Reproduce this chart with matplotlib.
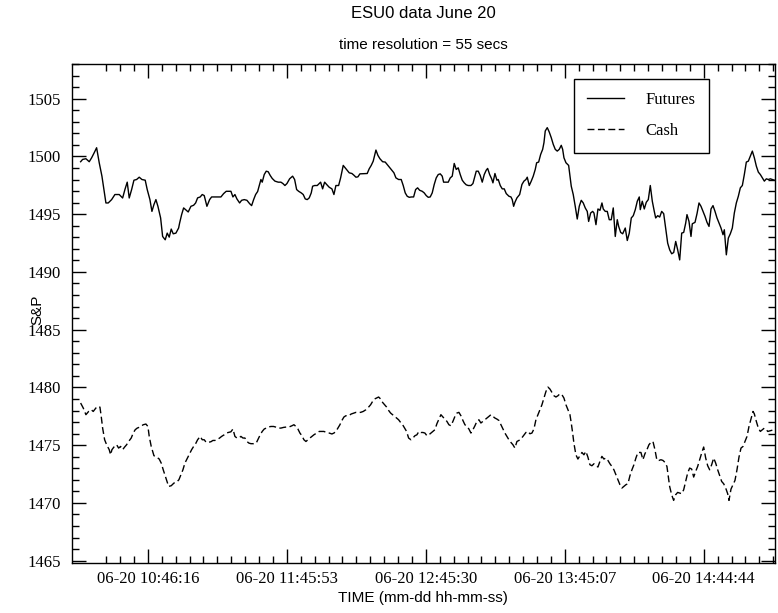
import matplotlib
matplotlib.use("Agg")
import matplotlib.pyplot as plt
import numpy as np
from matplotlib.ticker import FixedLocator, MultipleLocator

# minutes elapsed since the first sample (10:17:24) and the S&P level
FUT_T = [0.0, 0.86, 2.27, 3.69, 4.72, 5.83, 6.86, 7.98, 9.14, 10.0, 10.85, 11.84, 13.30, 14.71,
         16.56, 18.02, 19.0, 19.99, 20.85, 21.88, 22.87, 24.02, 25.14, 26.30, 27.71, 28.57, 29.73,
         30.59, 31.45, 32.30, 33.16, 34.32, 35.18, 36.29, 37.15, 38.01, 38.87, 39.73, 40.88, 42.04,
         42.47, 43.33, 44.19, 45.05, 46.16, 47.32, 48.48, 49.34, 50.19, 51.31, 52.17, 53.03, 54.18,
         55.34, 56.20, 60.19, 61.35, 62.46, 64.48, 65.34, 66.20, 67.05, 68.21, 69.07, 70.19, 71.35,
         72.50, 73.36, 74.22, 75.08, 75.94, 76.79, 77.35, 77.91, 78.77, 79.63, 80.48, 81.34, 82.20,
         83.36, 84.77, 85.93, 86.79, 87.65, 88.51, 89.66, 90.95, 91.81, 92.67, 93.53, 94.65, 95.50,
         96.36, 97.22, 98.08, 98.94, 99.53, 100.39, 101.51, 102.37, 102.96, 103.82, 104.68, 105.54,
         106.65, 107.81, 108.67, 109.52, 110.68, 111.54, 112.66, 113.51, 114.37, 115.23, 116.39,
         117.25, 118.11, 118.96, 119.82, 122.95, 123.81, 124.67, 125.53, 126.69, 127.54, 128.40,
         129.56, 130.67, 131.53, 132.39, 133.25, 134.41, 135.27, 136.42, 137.54, 138.40, 139.26,
         140.11, 140.97, 142.00, 142.86, 143.72, 144.57, 145.43, 146.55, 147.41, 148.27, 149.13,
         149.98, 150.84, 151.70, 152.56, 153.42, 154.28, 155.13, 155.73, 157.71, 158.57, 159.43,
         160.28, 161.14, 162.00, 162.86, 163.72, 164.58, 165.43, 166.29, 167.45, 168.31, 169.17,
         169.73, 170.59, 171.44, 172.30, 173.16, 174.02, 174.62, 175.48, 176.33, 176.89, 177.75,
         178.61, 179.17, 180.03, 180.88, 181.74, 182.60, 183.76, 184.62, 185.17, 185.77, 186.33,
         187.19, 188.35, 189.33, 190.19, 191.05, 191.61, 192.47, 193.33, 194.18, 195.04, 195.64,
         196.50, 197.36, 198.22, 198.78, 199.33, 200.19, 201.05, 201.91, 202.77, 203.63, 204.48,
         205.34, 206.20, 206.80, 207.36, 208.22, 209.37, 209.93, 210.49, 211.34, 212.20, 213.06,
         213.92, 214.78, 215.64, 216.49, 217.35, 217.95, 218.81, 219.67, 220.23, 221.09, 221.94,
         222.80, 223.66, 224.22, 225.08, 225.94, 226.79, 227.65, 228.51, 229.37, 230.23, 230.83,
         231.69, 232.55, 233.66, 234.52, 235.38, 236.24, 237.10, 237.96, 238.82, 239.67, 240.10,
         240.96, 241.82, 242.68, 243.54, 244.40, 245.26, 246.11, 246.71, 247.57, 248.43, 249.29,
         250.15, 251.00, 251.86, 252.72, 253.58, 254.44, 255.30, 256.15, 257.01, 257.87, 258.73,
         259.59, 260.14, 261.00, 261.86, 262.42, 263.58, 264.44, 265.30, 266.15, 267.01, 267.87,
         268.73, 269.59, 270.45, 271.30, 272.16, 273.02, 273.88, 274.74, 275.60, 276.16, 277.02,
         277.88, 278.73, 279.59, 280.45, 281.31, 282.17, 283.03, 283.89, 284.74, 285.60, 286.46,
         287.32, 288.18, 289.04, 289.89, 290.75, 291.61, 292.47, 293.33, 294.19, 295.04, 295.90,
         296.76, 297.62]
FUT_V = [1499.54, 1499.74, 1499.80, 1499.54, 1499.88, 1500.32, 1500.75, 1499.45, 1498.29, 1497.13,
         1495.97, 1495.97, 1496.26, 1496.70, 1496.70, 1496.40, 1497.13, 1497.77, 1496.40, 1497.13,
         1497.94, 1498.00, 1498.20, 1498.00, 1497.94, 1497.13, 1496.26, 1495.24, 1495.83, 1496.26,
         1495.68, 1494.67, 1493.07, 1492.78, 1493.36, 1493.01, 1493.71, 1493.30, 1493.36, 1493.80,
         1494.23, 1494.96, 1495.54, 1495.39, 1495.19, 1495.68, 1495.77, 1495.97, 1496.41, 1496.49,
         1496.70, 1496.61, 1495.68, 1496.26, 1496.49, 1496.49, 1496.78, 1496.98, 1496.98, 1496.49,
         1496.70, 1496.32, 1495.97, 1496.20, 1496.26, 1496.20, 1495.91, 1495.74, 1496.26, 1496.70,
         1496.96, 1497.57, 1498.00, 1497.77, 1498.43, 1498.72, 1498.67, 1498.35, 1498.09, 1497.86,
         1497.77, 1497.77, 1497.65, 1497.48, 1497.65, 1498.06, 1498.29, 1498.00, 1497.13, 1496.98,
         1496.84, 1496.70, 1496.32, 1496.26, 1496.41, 1496.84, 1497.42, 1497.48, 1497.48, 1497.65,
         1497.77, 1497.19, 1497.77, 1497.57, 1497.33, 1497.19, 1496.70, 1497.48, 1497.48, 1498.14,
         1499.22, 1499.01, 1498.81, 1498.58, 1498.52, 1498.37, 1498.20, 1498.23, 1498.49, 1498.52,
         1498.93, 1499.22, 1499.59, 1500.55, 1500.09, 1499.80, 1499.54, 1499.51, 1499.30, 1499.10,
         1498.87, 1498.58, 1498.14, 1498.00, 1498.00, 1497.48, 1496.84, 1496.55, 1496.46, 1496.49,
         1496.49, 1497.13, 1497.28, 1497.07, 1496.98, 1496.84, 1496.61, 1496.46, 1496.49, 1496.84,
         1497.57, 1498.14, 1498.43, 1498.49, 1498.29, 1497.77, 1497.77, 1498.14, 1498.29, 1499.39,
         1498.87, 1499.01, 1498.43, 1497.94, 1497.71, 1497.54, 1497.48, 1497.48, 1497.65, 1498.29,
         1498.72, 1498.72, 1498.35, 1497.77, 1498.43, 1498.81, 1498.96, 1498.43, 1498.06, 1497.71,
         1498.52, 1497.94, 1498.00, 1497.48, 1497.19, 1497.19, 1496.78, 1496.55, 1496.49, 1496.26,
         1495.68, 1496.03, 1496.41, 1496.70, 1497.57, 1497.86, 1498.00, 1498.20, 1497.48, 1497.86,
         1498.29, 1498.87, 1499.45, 1499.51, 1500.17, 1500.61, 1501.19, 1502.20, 1502.49, 1502.11,
         1501.62, 1501.04, 1500.61, 1500.46, 1500.61, 1500.96, 1500.61, 1499.88, 1499.45, 1499.22,
         1498.29, 1497.42, 1496.70, 1495.68, 1494.58, 1495.68, 1496.20, 1495.97, 1495.54, 1495.24,
         1494.37, 1495.10, 1495.24, 1495.10, 1494.09, 1495.45, 1495.33, 1495.97, 1495.45, 1495.24,
         1495.24, 1494.52, 1494.52, 1495.54, 1493.07, 1494.52, 1493.94, 1493.42, 1493.30, 1493.80,
         1492.72, 1493.36, 1494.67, 1494.87, 1495.39, 1496.12, 1496.49, 1495.39, 1496.12, 1495.45,
         1496.03, 1496.26, 1497.48, 1496.12, 1495.24, 1494.67, 1494.87, 1494.75, 1495.24, 1495.04,
         1493.80, 1492.49, 1491.91, 1491.57, 1491.68, 1492.64, 1491.91, 1491.04, 1493.36, 1493.42,
         1494.23, 1494.96, 1494.37, 1493.07, 1494.17, 1494.29, 1495.04, 1495.97, 1495.68, 1495.24,
         1494.81, 1494.29, 1493.94, 1495.45, 1495.74, 1495.24, 1494.67, 1494.23, 1493.80, 1493.22,
         1493.65, 1491.48, 1492.93, 1493.30, 1493.80, 1495.10, 1495.97, 1496.55, 1497.28, 1497.48,
         1498.43, 1499.51, 1499.59, 1500.03, 1500.46, 1499.88, 1499.16, 1498.64, 1498.43, 1498.14,
         1497.86, 1498.06, 1498.00, 1498.06, 1498.00, 1497.94]

CASH_T = [0.0, 1.12, 2.27, 3.43, 4.55, 5.41, 6.56, 7.42, 8.28, 8.84, 9.44, 10.30, 11.15, 12.27,
          12.87, 13.43, 14.29, 15.44, 16.30, 17.16, 18.02, 18.88, 19.73, 20.59, 21.71, 22.57, 23.42,
          24.28, 25.44, 26.86, 28.01, 28.87, 29.43, 30.29, 31.45, 32.60, 33.72, 34.58, 35.44, 36.59,
          37.75, 38.87, 40.03, 41.18, 42.17, 43.03, 43.89, 44.74, 45.60, 46.46, 47.62, 48.48, 49.34,
          50.19, 51.31, 52.17, 53.03, 53.88, 54.74, 55.90, 56.76, 57.62, 58.47, 59.63, 60.49, 61.60,
          62.46, 63.32, 64.48, 65.34, 66.20, 67.05, 67.91, 68.77, 69.63, 70.49, 71.34, 72.20, 73.06,
          74.22, 75.33, 76.19, 77.05, 77.91, 78.77, 79.63, 80.48, 81.64, 82.80, 83.66, 84.77, 85.93,
          87.09, 88.20, 89.36, 90.65, 91.51, 92.37, 93.22, 94.08, 94.94, 95.80, 96.66, 97.51, 98.37,
          99.23, 100.09, 101.24, 102.36, 104.37, 105.53, 106.65, 107.81, 108.67, 109.52, 110.38,
          111.24, 112.10, 112.96, 113.81, 114.97, 116.09, 117.25, 118.11, 120.12, 121.24, 122.39,
          123.55, 124.41, 125.27, 126.13, 126.98, 127.84, 128.70, 129.56, 130.42, 131.27, 132.13,
          132.99, 133.85, 134.71, 135.56, 136.42, 137.28, 138.14, 139.00, 139.85, 140.71, 141.70,
          142.56, 143.42, 144.27, 145.13, 145.99, 146.85, 147.71, 148.56, 149.42, 150.28, 151.14,
          152.00, 152.85, 153.71, 154.57, 155.43, 156.29, 157.14, 158.00, 158.86, 159.72, 160.58,
          161.43, 162.29, 163.15, 164.01, 164.87, 165.72, 166.58, 167.44, 168.30, 169.16, 170.01,
          170.87, 171.73, 172.59, 173.45, 174.30, 175.16, 176.02, 176.88, 177.74, 178.59, 179.45,
          180.31, 181.17, 182.03, 182.89, 183.74, 184.60, 185.46, 186.32, 187.18, 188.03, 188.89,
          189.75, 191.04, 191.90, 192.76, 193.62, 194.48, 195.33, 196.19, 197.05, 197.91, 198.77,
          199.63, 200.49, 201.34, 202.20, 203.06, 203.92, 204.78, 205.63, 206.49, 207.35, 208.21,
          209.07, 209.93, 210.49, 211.09, 211.62, 212.48, 213.34, 214.20, 215.06, 215.92, 216.77,
          217.63, 218.49, 219.35, 220.21, 221.07, 221.93, 222.78, 223.64, 224.50, 225.36, 226.22,
          227.08, 227.93, 228.79, 229.65, 230.51, 231.37, 232.23, 233.08, 233.94, 234.80, 235.66,
          236.52, 237.38, 238.23, 239.09, 240.38, 241.24, 242.10, 242.96, 243.82, 244.68, 245.54,
          246.39, 247.25, 248.11, 248.97, 249.83, 250.69, 251.54, 252.10, 252.70, 253.56, 254.42,
          255.28, 256.14, 257.00, 257.86, 258.72, 259.57, 260.43, 261.29, 262.15, 263.01, 263.87,
          264.72, 265.58, 266.44, 267.30, 268.16, 269.02, 269.87, 270.73, 271.59, 272.45, 273.31,
          274.17, 275.02, 275.88, 276.74, 277.60, 278.16, 279.02, 279.88, 280.73, 281.59, 282.45,
          283.31, 284.17, 285.03, 285.89, 286.74, 287.60, 288.46, 289.02, 289.89, 290.75, 291.61,
          292.47, 293.33, 294.19, 294.79, 296.76]
CASH_V = [1478.65, 1478.22, 1477.64, 1477.92, 1478.07, 1477.92, 1478.22, 1478.36, 1478.30, 1477.49,
          1476.48, 1475.47, 1475.04, 1474.61, 1474.17, 1474.61, 1474.84, 1475.04, 1474.75, 1474.89,
          1474.61, 1474.84, 1475.04, 1475.32, 1475.62, 1476.05, 1476.34, 1476.48, 1476.57, 1476.77,
          1476.83, 1476.62, 1475.76, 1474.89, 1474.09, 1473.97, 1473.80, 1473.45, 1472.87, 1472.16,
          1471.43, 1471.49, 1471.72, 1471.80, 1472.01, 1472.44, 1472.87, 1473.45, 1473.80, 1474.17,
          1474.61, 1474.89, 1475.13, 1475.47, 1475.76, 1475.47, 1475.47, 1475.24, 1475.24, 1475.30,
          1475.41, 1475.41, 1475.47, 1475.62, 1475.76, 1475.90, 1476.05, 1476.10, 1476.16, 1476.40,
          1475.76, 1475.62, 1475.62, 1475.76, 1475.62, 1475.62, 1475.32, 1475.18, 1475.13, 1475.13,
          1475.18, 1475.53, 1475.90, 1476.19, 1476.40, 1476.48, 1476.57, 1476.62, 1476.62, 1476.57,
          1476.48, 1476.48, 1476.54, 1476.57, 1476.57, 1476.68, 1476.77, 1476.62, 1476.40, 1476.05,
          1475.82, 1475.47, 1475.32, 1475.47, 1475.62, 1475.76, 1475.90, 1476.05, 1476.19, 1476.19,
          1476.10, 1476.05, 1475.97, 1476.05, 1476.19, 1476.48, 1476.77, 1477.14, 1477.44, 1477.55,
          1477.55, 1477.70, 1477.78, 1477.84, 1477.84, 1477.92, 1478.07, 1478.30, 1478.50, 1478.79,
          1479.00, 1479.08, 1479.17, 1479.00, 1478.70, 1478.50, 1478.30, 1478.01, 1477.78, 1477.64,
          1477.49, 1477.35, 1477.20, 1476.97, 1476.77, 1476.48, 1476.19, 1475.62, 1475.47, 1475.62,
          1475.82, 1475.90, 1476.19, 1476.10, 1476.10, 1476.05, 1475.82, 1475.90, 1476.05, 1476.19,
          1476.34, 1476.86, 1477.26, 1477.64, 1477.44, 1477.26, 1477.06, 1476.77, 1476.68, 1477.06,
          1477.49, 1477.78, 1477.84, 1477.55, 1477.14, 1476.77, 1476.62, 1476.40, 1476.05, 1476.34,
          1476.68, 1477.06, 1477.20, 1476.92, 1477.06, 1477.20, 1477.35, 1477.49, 1477.64, 1477.49,
          1477.35, 1477.26, 1477.14, 1476.77, 1476.40, 1476.05, 1475.76, 1475.47, 1475.24, 1475.04,
          1474.75, 1475.32, 1475.41, 1475.53, 1475.76, 1476.10, 1476.19, 1475.99, 1476.05, 1476.40,
          1477.20, 1477.64, 1478.07, 1478.50, 1479.08, 1479.65, 1480.03, 1479.86, 1479.57, 1479.28,
          1479.17, 1479.28, 1479.45, 1479.37, 1479.08, 1478.50, 1478.07, 1477.64, 1476.92, 1476.05,
          1475.18, 1474.17, 1473.80, 1474.09, 1474.37, 1474.17, 1474.46, 1473.97, 1473.31, 1473.22,
          1473.39, 1473.22, 1473.11, 1473.59, 1474.03, 1473.80, 1473.89, 1473.68, 1473.39, 1473.16,
          1472.87, 1472.44, 1472.01, 1471.58, 1471.29, 1471.43, 1471.58, 1471.66, 1472.35, 1472.87,
          1473.31, 1473.89, 1474.37, 1474.37, 1473.74, 1474.26, 1474.61, 1475.04, 1475.24, 1475.32,
          1474.61, 1473.68, 1473.68, 1473.74, 1473.68, 1473.51, 1473.16, 1472.29, 1471.43, 1470.71,
          1470.22, 1470.71, 1470.91, 1470.86, 1470.80, 1471.14, 1471.86, 1472.59, 1473.02, 1472.93,
          1472.24, 1472.73, 1473.16, 1473.74, 1474.32, 1474.84, 1473.89, 1473.22, 1472.87, 1473.31,
          1473.89, 1473.45, 1472.87, 1472.35, 1471.86, 1471.66, 1471.29, 1470.80, 1470.22, 1471.20,
          1471.58, 1471.95, 1472.87, 1473.97, 1474.75, 1474.89, 1475.32, 1475.76, 1476.62, 1477.26,
          1477.92, 1477.72, 1477.06, 1476.48, 1476.19, 1476.34, 1476.48, 1476.34, 1476.19, 1476.30]

START = "10:17:24"
TICK_LABELS = ["06-20 10:46:16", "06-20 11:45:53", "06-20 12:45:30",
               "06-20 13:45:07", "06-20 14:44:44"]


def secs(hms):
    h, m, s = (int(p) for p in hms.split(":"))
    return h * 3600 + m * 60 + s


t0 = secs(START)
tick_pos = [(secs(lbl.split()[1]) - t0) / 60.0 for lbl in TICK_LABELS]
step = tick_pos[1] - tick_pos[0]

SERIF = "Liberation Serif"
SANS = "Liberation Sans"

fig = plt.figure(figsize=(7.78, 6.13), dpi=100)
ax = fig.add_axes([72 / 778, 1 - 563 / 613, 703 / 778, 499 / 613])

ax.plot(FUT_T, FUT_V, color="black", lw=1.0, label="Futures")
ax.plot(CASH_T, CASH_V, color="black", lw=1.0, dashes=(5, 2.5), label="Cash")

ax.set_xlim(-3.7, 297.9)
ax.set_ylim(1464.8, 1508.0)

ax.xaxis.set_major_locator(FixedLocator(tick_pos))
minor = np.arange(tick_pos[0] - 3 * step / 10, tick_pos[-1] + 6 * step / 10, step / 10)
ax.xaxis.set_minor_locator(FixedLocator(minor))
ax.set_xticklabels(TICK_LABELS, fontfamily=SERIF, fontsize=12)
ax.yaxis.set_major_locator(MultipleLocator(5))
ax.yaxis.set_minor_locator(MultipleLocator(1))
for lbl in ax.get_yticklabels():
    lbl.set_fontfamily(SERIF)
    lbl.set_fontsize(12)

ax.tick_params(which="both", direction="in", top=True, right=True, width=1.0)
ax.tick_params(which="major", length=10)
ax.tick_params(axis="x", which="major", pad=6)
ax.tick_params(axis="y", which="major", pad=8)
ax.tick_params(which="minor", length=5)
for sp in ax.spines.values():
    sp.set_linewidth(1.0)

fig.text(423 / 778, 1 - 13 / 613, "ESU0 data June 20", ha="center", va="center",
         fontfamily=SANS, fontsize=12)
fig.text(423 / 778, 1 - 45 / 613, "time resolution = 55 secs", ha="center", va="center",
         fontfamily=SANS, fontsize=11)
fig.text(423 / 778, 1 - 598 / 613, "TIME (mm-dd hh-mm-ss)", ha="center", va="center",
         fontfamily=SANS, fontsize=11)
fig.text(37 / 778, 1 - 310 / 613, "S&P", ha="center", va="center", rotation=90,
         fontfamily=SANS, fontsize=11)

leg = ax.legend(loc="upper left", bbox_to_anchor=(0.7135, 0.97), frameon=True,
                fancybox=False, edgecolor="black", framealpha=1,
                prop={"family": SERIF, "size": 12}, handlelength=2.2,
                handletextpad=1.3, borderpad=0.8, labelspacing=0.9, borderaxespad=0)
leg.get_frame().set_linewidth(1.0)

fig.savefig("out.png", dpi=100)
